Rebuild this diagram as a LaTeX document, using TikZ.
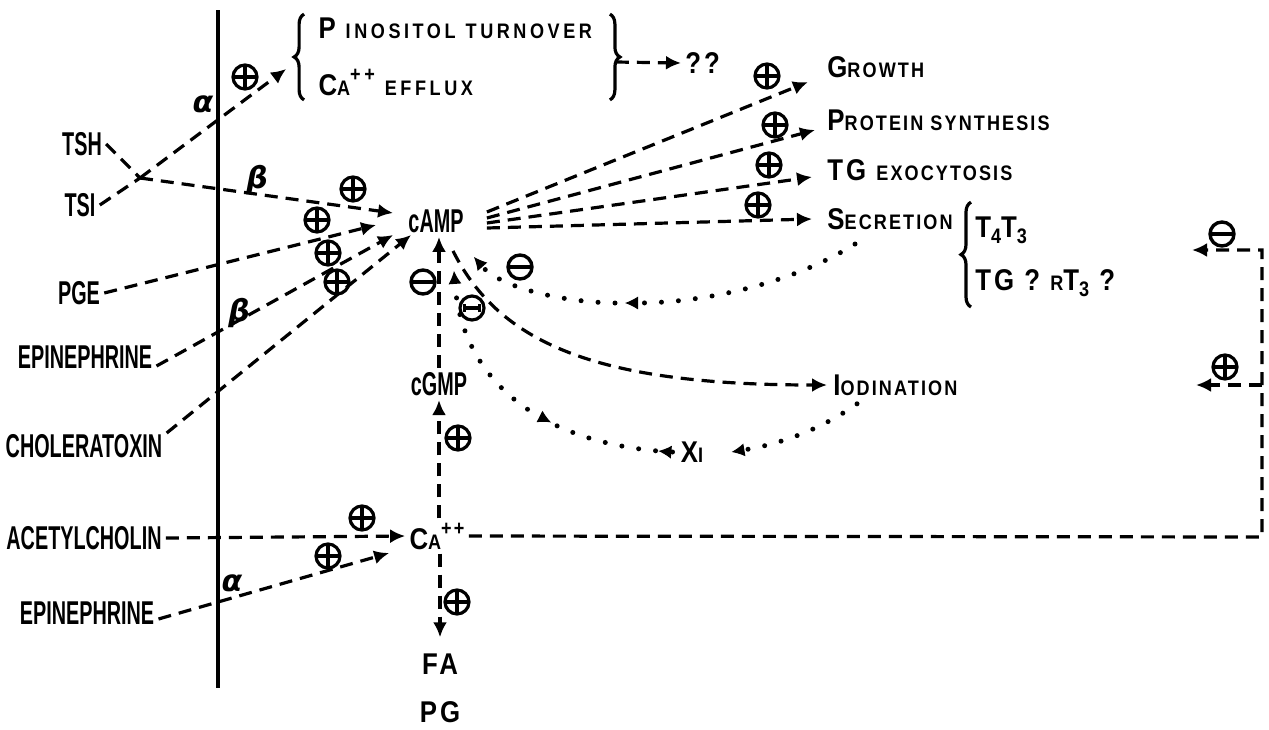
\documentclass[tikz,border=0pt]{standalone}
\usepackage{fontspec}
\setmainfont{Liberation Sans}
\newfontfamily\labf{Liberation Sans}[FakeStretch=0.6]
\newfontfamily\rtf{Liberation Sans}[FakeStretch=0.86,LetterSpace=10]
\newfontfamily\rtw{Liberation Sans}[FakeStretch=0.86,LetterSpace=17]
\newfontfamily\gkf{DejaVu Sans}
\usetikzlibrary{arrows.meta,decorations.pathreplacing,decorations.markings}
\newcommand{\Bg}{\fontsize{15}{18}\selectfont}
\newcommand{\Sm}{\fontsize{10.5}{18}\selectfont}
\newcommand{\Lb}{\fontsize{16.5}{18}\selectfont}
\newcommand{\Gk}{\fontsize{15}{15}\selectfont}
\begin{document}
\begin{tikzpicture}[x=0.5pt,y=-0.5pt,
  dsh/.style={line width=1.6pt, dash pattern=on 6.5pt off 4pt},
  dotl/.style={line width=2.5pt, line cap=round, dash pattern=on 0pt off 8.5pt},
  arr/.style={-{Latex[length=7.5pt,width=7pt]}},
  darr/.style={-{Latex[length=6.5pt,width=6.5pt,line width=0.5pt]}},
  lab/.style={font=\labf\bfseries\Lb, inner sep=2pt},
  rt/.style={font=\rtf\bfseries\Bg, inner sep=2pt},
  gk/.style={font=\gkf\bfseries\itshape\Gk, inner sep=0pt},
  pl/.style={circle, draw, line width=1.6pt, minimum size=12pt, inner sep=0pt,
    path picture={\draw[line width=1.7pt] (path picture bounding box.north) -- (path picture bounding box.south)
      (path picture bounding box.west) -- (path picture bounding box.east);}},
  mi/.style={circle, draw, line width=1.7pt, minimum size=12pt, inner sep=0pt,
    path picture={\draw[line width=2.4pt] (path picture bounding box.west) -- (path picture bounding box.east);}},
  mh/.style={circle, draw, line width=1.6pt, minimum size=12pt, inner sep=0pt,
    path picture={\draw[line width=1.7pt] ([xshift=2pt]path picture bounding box.west) -- ([xshift=-2pt]path picture bounding box.east);
      \draw[line width=1.3pt] ([xshift=2.2pt,yshift=-2.2pt]path picture bounding box.west) -- ([xshift=2.2pt,yshift=2.2pt]path picture bounding box.west)
      ([xshift=-2.2pt,yshift=-2.2pt]path picture bounding box.east) -- ([xshift=-2.2pt,yshift=2.2pt]path picture bounding box.east);}},
  brc/.style={decorate, decoration={brace, amplitude=5pt}, line width=1.6pt},
  mid/.style={decoration={markings,
      mark=at position 0.045 with {\arrow{Latex[length=6.5pt,width=6.5pt,line width=0.5pt]}},
      mark=at position 0.4 with {\arrowreversed{Latex[length=6.5pt,width=6.5pt,line width=0.5pt]}}},
    postaction={decorate}}
]
\useasboundingbox (0,0) rectangle (1269,729);

% membrane
\coordinate (mt) at (218,10);
\coordinate (mb) at (218,688);
\draw[line width=2.2pt] (mt) -- (mb);

% left labels
\node[lab] (tsh) at (82,144) {TSH};
\node[lab] (tsi) at (80,205) {TSI};
\node[lab] (pge) at (79,293) {PGE};
\node[lab] (epi1) at (85,357) {EPINEPHRINE};
\node[lab] (chol) at (84,446) {CHOLERATOXIN};
\node[lab] (ach) at (84,538) {ACETYLCHOLIN};
\node[lab] (epi2) at (87,613) {EPINEPHRINE};

% central
\node[lab] (camp) at (436,221) {cAMP};
\node[lab] (cgmp) at (439,384) {cGMP};
\node[rt] (ca) at (437,536) {C\Sm A\raisebox{7pt}{++}};
\node[rt] (fa) at (440,664) {FA};
\node[rt] (pg) at (440,712) {PG};

% inositol group
\node[rt, font=\rtw\bfseries\Bg, align=left, text width=138.5pt, inner xsep=7pt, inner ysep=0pt, minimum height=42.5pt] (ino) at (457,57)
  {P \Sm INOSITOL TURNOVER\\[10.5pt]\Bg C\Sm A\raisebox{7pt}{++} EFFLUX};
\draw[brc] (ino.south west) -- (ino.north west);
\draw[brc] (ino.north east) -- (ino.south east);
\node[rt, anchor=west] (qq) at (681,63) {??};

% right labels
\node[rt, anchor=west, inner sep=3pt] (gro) at (821,67) {G\Sm ROWTH};
\node[rt, anchor=west, inner sep=3pt] (pro) at (821,120) {P\Sm ROTEIN SYNTHESIS};
\node[rt, anchor=west, inner sep=3pt] (tgx) at (821,170) {TG \Sm EXOCYTOSIS};
\node[rt, anchor=west, inner sep=3pt] (sec) at (821,219) {S\Sm ECRETION};
\node[rt, anchor=west] (t43) at (971,230) {T\raisebox{-3pt}{\Sm 4}T\raisebox{-3pt}{\Sm 3}};
\node[rt, anchor=west] (tgq) at (971,283) {TG ? {\Sm R}T\raisebox{-3pt}{\Sm 3} ?};
\draw[brc] ([yshift=-3pt]tgq.south west) -- ([yshift=5pt]t43.north west);
\node[rt, anchor=west, inner sep=3pt] (iod) at (827,385) {I\Sm ODINATION};
\node[rt, inner xsep=4pt] (xi) at (692,452) {X\Sm I};

% greek labels
\node[gk] (a1) at (203,104) {α};
\node[gk] (b1) at (257,180) {β};
\node[gk] (b2) at (239,313) {β};
\node[gk] (a2) at (232,583) {α};

% signs
\node[pl] (pa) at (245,77) {};
\node[pl] (pb) at (353,189) {};
\node[pl] (pc) at (317,220) {};
\node[pl] (pd) at (328,253) {};
\node[pl] (pe) at (337,282) {};
\node[pl] (pgr) at (767,76) {};
\node[pl] (ppr) at (775,125) {};
\node[pl] (ptg) at (769,165) {};
\node[pl] (pse) at (758,205) {};
\node[mi] (m1) at (423,282) {};
\node[mi] (m2) at (520,267) {};
\node[mh] (m3) at (472,308) {};
\node[pl] (pcg) at (458,438) {};
\node[pl] (pac) at (362,518) {};
\node[pl] (pep) at (328,556) {};
\node[pl] (pfa) at (457,602) {};
\node[mi] (mfb) at (1222,234) {};
\node[pl] (pfb) at (1225,367) {};

% TSH / TSI
\coordinate (J) at (140,178);
\draw[dsh] (tsh.east) -- (J);
\draw[dsh] (tsi.east) -- (J);
\draw[dsh,arr] (J) -- ([xshift=-9pt,yshift=-6pt]ino.west);
\draw[dsh,arr] (J) -- ([xshift=-5.5pt,yshift=4pt]camp.west);
\draw[dsh,arr] ([xshift=3pt,yshift=-2.5pt]ino.east) -- (qq.west);

% inputs to cAMP
\draw[dsh,arr] (pge.east) -- ([xshift=-14pt,yshift=-2pt]camp.west);
\draw[dsh,arr] ([yshift=-4.5pt]epi1.east) -- ([xshift=-5.5pt,yshift=-7pt]camp.west);
\draw[dsh,arr] ([yshift=6.5pt]chol.east) -- ([xshift=3.5pt,yshift=-7pt]camp.west);

% cAMP outputs
\draw[dsh,arr] ([xshift=9.5pt,yshift=4.5pt]camp.east) -- ([xshift=-6.5pt,yshift=-7.5pt]gro.west);
\draw[dsh,arr] ([xshift=9.5pt,yshift=1.5pt]camp.east) -- ([xshift=-3pt,yshift=-5pt]pro.west);
\draw[dsh,arr] ([xshift=9.5pt,yshift=-1pt]camp.east) -- ([xshift=-4.5pt,yshift=-3.5pt]tgx.west);
\draw[dsh,arr] ([xshift=9.5pt,yshift=-3.5pt]camp.east) -- ([xshift=-4.5pt]sec.west);
\draw[dsh,arr] ([xshift=8.5pt,yshift=-7pt]camp.south) .. controls (500,345) and (600,385) .. (iod.west);

% cGMP, Ca
\draw[dsh,arr] (cgmp.north) -- (cgmp.north |- camp.south);
\draw[dsh,arr] (ca.north -| cgmp.south) -- (cgmp.south);
\draw[dsh,arr] (ach.east) -- (ca.west);
\draw[dsh,arr] ([yshift=-3pt]epi2.east) -- ([xshift=-8pt,yshift=-8.5pt]ca.west);
\draw[dsh,arr] (ca.south -| fa.north) -- ([yshift=6pt]fa.north);

% feedback from Ca
\coordinate (corner) at (1262,537);
\coordinate (fb1) at (1192,250);
\coordinate (fb2) at (1196,385);
\draw[dsh,arr] (ca.east) -- (corner) |- (fb1);
\draw[dsh,arr] (corner |- fb2) -- (fb2);

% dotted loops
\coordinate (sm) at (625,303);
\draw[dotl,darr] ([xshift=17pt,yshift=-4pt]sec.south west) .. controls (790,285) and (700,303) .. (sm);
\draw[dotl,darr] ([xshift=-5pt]sm) .. controls (560,302) and (500,287) .. ([xshift=3pt,yshift=-10pt]camp.south east);
\draw[dotl,darr] ([xshift=15pt,yshift=-1pt]iod.south west) .. controls (820,430) and (780,444) .. ([xshift=10pt]xi.east);
\draw[dotl,darr,mid] (xi.west) .. controls (540,445) and (462,380) .. ([xshift=9pt,yshift=-17pt]camp.south);
\end{tikzpicture}
\end{document}
